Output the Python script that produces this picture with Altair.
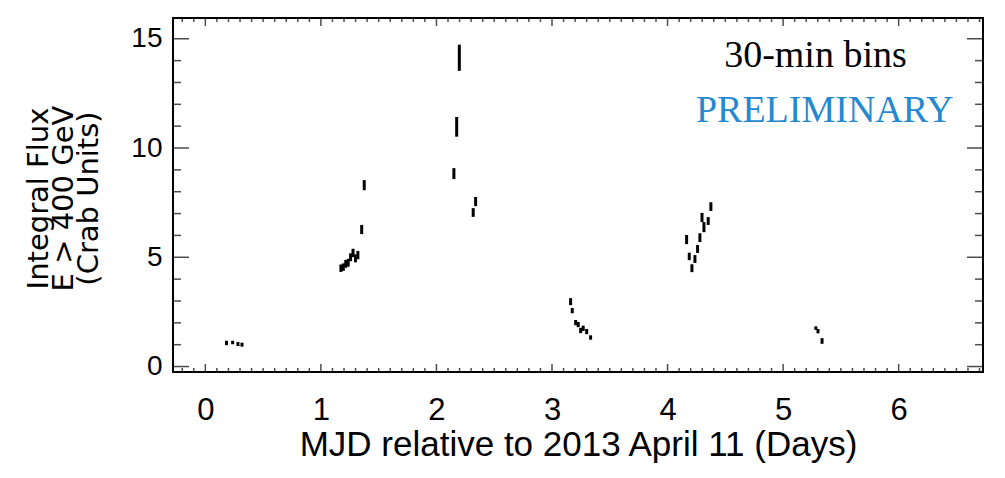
import altair as alt
import pandas as pd

# --- data (days relative to 2013 April 11, flux in Crab units) ---
day0 = [0.183, 0.236, 0.282, 0.317]
flux0 = [1.08, 1.10, 1.03, 1.00]
err0 = [0.10, 0.08, 0.09, 0.09]

day1 = [1.173, 1.194, 1.215, 1.236, 1.257, 1.278, 1.299, 1.320, 1.353, 1.375]
flux1 = [4.50, 4.55, 4.70, 4.75, 5.00, 5.20, 4.95, 5.10, 6.27, 8.30]
err1 = [0.17, 0.17, 0.18, 0.18, 0.18, 0.19, 0.18, 0.19, 0.21, 0.23]

day2 = [2.151, 2.175, 2.198, 2.318, 2.339]
flux2 = [8.83, 10.97, 14.13, 7.05, 7.55]
err2 = [0.25, 0.45, 0.60, 0.20, 0.21]

day3 = [3.161, 3.175, 3.205, 3.227, 3.248, 3.270, 3.300, 3.334]
flux3 = [2.97, 2.56, 2.01, 1.92, 1.65, 1.75, 1.60, 1.33]
err3 = [0.16, 0.12, 0.12, 0.12, 0.12, 0.12, 0.12, 0.10]

day4 = [4.165, 4.188, 4.211, 4.237, 4.260, 4.280, 4.298, 4.315, 4.352, 4.375]
flux4 = [5.81, 5.04, 4.50, 4.92, 5.38, 5.90, 6.82, 6.38, 6.66, 7.32]
err4 = [0.21, 0.17, 0.18, 0.18, 0.18, 0.20, 0.21, 0.23, 0.18, 0.20]

day5 = [5.283, 5.302, 5.337]
flux5 = [1.76, 1.62, 1.17]
err5 = [0.08, 0.10, 0.13]

x_tick_values = [0, 1, 2, 3, 4, 5, 6]
y_tick_values = [0, 5, 10, 15]
y_minor_values = [1, 2, 3, 4, 6, 7, 8, 9, 11, 12, 13, 14]
x_minor_values = [round(i / 10, 1) for i in range(-2, 68) if i % 10 != 0]

ann_text = ["30-min bins", "PRELIMINARY"]
ann_day = [5.28, 5.36]
ann_flux = [13.72, 11.2]

days = day0 + day1 + day2 + day3 + day4 + day5
flux = flux0 + flux1 + flux2 + flux3 + flux4 + flux5
err = err0 + err1 + err2 + err3 + err4 + err5

df = pd.DataFrame({"day": days, "flux": flux, "err": err})
df["lo"] = df["flux"] - df["err"]
df["hi"] = df["flux"] + df["err"]

W, H = 810, 354
xscale = alt.Scale(domain=[-0.28, 6.73], nice=False, zero=False)
yscale = alt.Scale(domain=[-0.25, 15.95], nice=False, zero=False)

x_axis = alt.Axis(values=x_tick_values, format="d", domain=False, ticks=False, grid=False,
                  labelFont="Liberation Sans", labelFontSize=31, labelColor="black",
                  labelPadding=23, labelFontWeight="normal",
                  title="MJD relative to 2013 April 11 (Days)",
                  titleFont="Liberation Sans", titleFontSize=35, titleFontWeight="normal",
                  titleColor="black", titlePadding=2)
y_axis = alt.Axis(values=y_tick_values, format="d", domain=False, ticks=False, grid=False,
                  labelFont="Liberation Sans", labelFontSize=28, labelColor="black",
                  labelPadding=11,
                  title=["Integral Flux", "E > 400 GeV", "(Crab Units)"],
                  titleFont="DejaVu Sans", titleFontSize=29, titleFontWeight="normal",
                  titleColor="black", titleLineHeight=25, titleAngle=270,
                  titleX=-135, titleY=H / 2 + 3, titleAlign="center", titleBaseline="middle")

data_layer = alt.Chart(df).mark_rule(strokeWidth=3, color="black").encode(
    x=alt.X("day:Q", scale=xscale, axis=x_axis),
    y=alt.Y("lo:Q", scale=yscale, axis=y_axis),
    y2="hi:Q",
)

ymaj = pd.DataFrame({"v": y_tick_values})
ymin = pd.DataFrame({"v": y_minor_values})
xmaj = pd.DataFrame({"v": x_tick_values})
xmin = pd.DataFrame({"v": x_minor_values})

def yticks(d, length, xpos):
    return alt.Chart(d).mark_tick(orient="horizontal", size=length, thickness=1.5, color="black").encode(
        y=alt.Y("v:Q", scale=yscale, axis=y_axis), x=alt.value(xpos))

def xticks(d, length, ypos):
    return alt.Chart(d).mark_tick(orient="vertical", size=length, thickness=1.5, color="black").encode(
        x=alt.X("v:Q", scale=xscale, axis=x_axis), y=alt.value(ypos))

tick_layers = [
    yticks(ymaj, 16, 8), yticks(ymaj, 16, W - 8),
    yticks(ymin, 8, 4), yticks(ymin, 8, W - 4),
    xticks(xmaj, 8, H - 4), xticks(xmaj, 8, 4),
    xticks(xmin, 4, H - 2), xticks(xmin, 4, 2),
]

ann1 = alt.Chart(pd.DataFrame({"t": ann_text[:1], "x": ann_day[:1], "y": ann_flux[:1]})).mark_text(
    font="Liberation Serif", fontSize=38, color="black", align="center", baseline="alphabetic").encode(
    x=alt.X("x:Q", scale=xscale, axis=x_axis), y=alt.Y("y:Q", scale=yscale, axis=y_axis), text="t:N")
ann2 = alt.Chart(pd.DataFrame({"t": ann_text[1:], "x": ann_day[1:], "y": ann_flux[1:]})).mark_text(
    font="Liberation Serif", fontSize=38, color="#2589d0", align="center", baseline="alphabetic").encode(
    x=alt.X("x:Q", scale=xscale, axis=x_axis), y=alt.Y("y:Q", scale=yscale, axis=y_axis), text="t:N")

chart = alt.layer(data_layer, *tick_layers, ann1, ann2).properties(
    width=W, height=H,
    autosize=alt.AutoSizeParams(type="none"),
    padding={"left": 165, "top": 10, "right": 10, "bottom": 98},
    background="white",
).configure_view(stroke="black", strokeWidth=2)

chart.save("out.html", embed_options={"renderer": "svg", "actions": False})
